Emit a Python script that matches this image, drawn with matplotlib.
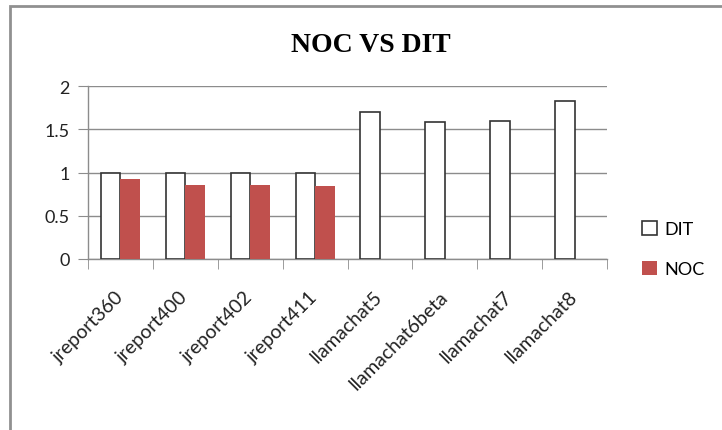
import matplotlib.pyplot as plt
import numpy as np
from matplotlib.patches import Rectangle

# valores
categorias = ['jreport360', 'jreport400', 'jreport402', 'jreport411',
              'llamachat5', 'llamachat6beta', 'llamachat7', 'llamachat8']
dit = [1.0, 1.0, 1.0, 1.0, 1.70, 1.58, 1.60, 1.83]
noc = [0.92, 0.85, 0.85, 0.84, 0, 0, 0, 0]
yticks = [0, 0.5, 1, 1.5, 2]
ytick_labels = ['0', '0.5', '1', '1.5', '2']

fonte = 'Lato'
cinza = '#8c8c8c'

fig = plt.figure(figsize=(7.22, 4.31), dpi=100)
ax = fig.add_axes([88/722, 1 - 260/431, (607 - 88)/722, (260 - 87)/431])

x = np.arange(len(categorias))
largura = 0.3
ax.bar(x - largura/2, dit, largura, label='DIT', color='white',
       edgecolor='#333333', linewidth=1.2, zorder=3)
ax.bar(x + largura/2, noc, largura, label='NOC', color='#c0504d',
       edgecolor='none', zorder=3)

ax.set_xlim(-0.5, len(categorias) - 0.5)
ax.set_ylim(0, 2)
ax.set_yticks(yticks)
ax.set_yticklabels(ytick_labels, fontsize=13, family=fonte, color='#222222')
ax.yaxis.grid(True, color=cinza, linewidth=1, zorder=0)
ax.tick_params(axis='y', length=7, color=cinza, pad=6)

ax.set_xticks(x)
ax.set_xticklabels(categorias, rotation=45, ha='right', va='center',
                   rotation_mode='anchor', fontsize=14, family=fonte,
                   color='#222222')
ax.tick_params(axis='x', which='major', length=0, pad=25)
ax.set_xticks(np.arange(len(categorias) + 1) - 0.5, minor=True)
ax.tick_params(axis='x', which='minor', length=7, color=cinza)

for lado in ['top', 'right']:
    ax.spines[lado].set_visible(False)
for lado in ['left', 'bottom']:
    ax.spines[lado].set_color(cinza)
    ax.spines[lado].set_linewidth(1)

fig.text(371/722, 1 - 45/431, 'NOC VS DIT', ha='center', va='center',
         fontsize=20, fontweight='bold', family='Liberation Serif')

ax.legend(loc='center left', bbox_to_anchor=(626/722, 1 - 250/431),
          bbox_transform=fig.transFigure, frameon=False,
          prop={'family': fonte, 'size': 13}, handlelength=0.8,
          handleheight=0.8, handletextpad=0.4, labelspacing=1.3)

# moldura cinza em volta do gráfico
fig.patches.append(Rectangle((10/722, -0.05), 1.0, 1 - 7/431 + 0.05,
                             transform=fig.transFigure, fill=False,
                             edgecolor='#909090', linewidth=2))

fig.savefig('out.png', dpi=100)
